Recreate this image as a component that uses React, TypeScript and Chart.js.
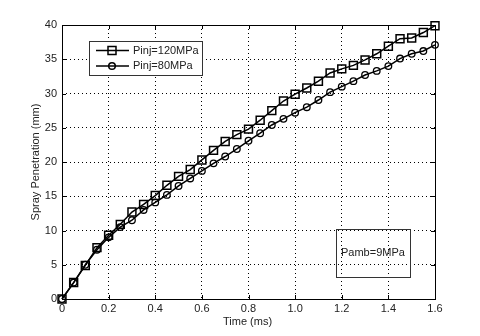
import React, { useEffect, useRef } from "react";
import { Chart, registerables } from "chart.js";

Chart.register(...registerables);

const time = [0, 0.05, 0.1, 0.15, 0.2, 0.25, 0.3, 0.35, 0.4, 0.45, 0.5, 0.55, 0.6, 0.65, 0.7, 0.75, 0.8, 0.85, 0.9, 0.95, 1.0, 1.05, 1.1, 1.15, 1.2, 1.25, 1.3, 1.35, 1.4, 1.45, 1.5, 1.55, 1.6];
const pinj120 = [0, 2.4, 4.9, 7.5, 9.3, 10.9, 12.7, 13.8, 15.1, 16.6, 17.9, 18.9, 20.3, 21.7, 23.0, 24.0, 24.8, 26.1, 27.5, 28.9, 29.9, 30.8, 31.8, 33.0, 33.6, 34.1, 34.9, 35.8, 36.9, 38.0, 38.1, 38.9, 39.9];
const pinj80 = [0, 2.4, 5.0, 7.2, 9.0, 10.5, 11.5, 13.0, 14.1, 15.2, 16.5, 17.6, 18.7, 19.8, 20.8, 21.9, 23.1, 24.2, 25.4, 26.3, 27.2, 28.0, 29.05, 30.2, 31.0, 31.8, 32.7, 33.3, 34.0, 35.1, 35.8, 36.2, 37.1];
const seriesLabels = ["Pinj=120MPa", "Pinj=80MPa"];
const xTitle = "Time (ms)";
const yTitle = "Spray Penetration (mm)";
const noteText = "Pamb=9MPa";

const FONT = '"Liberation Sans", Arial, sans-serif';
const TEXT = "#222";

const overlay = {
  id: "overlay",
  afterDraw(chart: any) {
    const ctx = chart.ctx as CanvasRenderingContext2D;
    const a = chart.chartArea;
    const xs = chart.scales.x;
    const ys = chart.scales.y;
    ctx.save();
    // box
    ctx.strokeStyle = "#000";
    ctx.lineWidth = 1;
    ctx.setLineDash([]);
    ctx.strokeRect(Math.round(a.left) + 0.5, Math.round(a.top) + 0.5, Math.round(a.right - a.left), Math.round(a.bottom - a.top));
    // inner ticks
    const tl = 4;
    ctx.beginPath();
    xs.ticks.forEach((t: any) => {
      const px = Math.round(xs.getPixelForValue(t.value)) + 0.5;
      ctx.moveTo(px, a.bottom);
      ctx.lineTo(px, a.bottom - tl);
      ctx.moveTo(px, a.top);
      ctx.lineTo(px, a.top + tl);
    });
    ys.ticks.forEach((t: any) => {
      const py = Math.round(ys.getPixelForValue(t.value)) + 0.5;
      ctx.moveTo(a.left, py);
      ctx.lineTo(a.left + tl, py);
      ctx.moveTo(a.right, py);
      ctx.lineTo(a.right - tl, py);
    });
    ctx.stroke();

    // axis titles
    ctx.fillStyle = TEXT;
    ctx.font = `11px ${FONT}`;
    ctx.textAlign = "center";
    ctx.textBaseline = "middle";
    ctx.fillText(xTitle, (a.left + a.right) / 2 - 1, 322);
    ctx.save();
    ctx.translate(35.5, (a.top + a.bottom) / 2);
    ctx.rotate(-Math.PI / 2);
    ctx.fillText(yTitle, 0, 0);
    ctx.restore();

    // legend
    const lx = 89.5, ly = 41.5, lw = 113, lh = 34;
    ctx.fillStyle = "#fff";
    ctx.fillRect(lx, ly, lw, lh);
    ctx.strokeStyle = "#333";
    ctx.strokeRect(lx, ly, lw, lh);
    const rows = [
      { y: 50.5, style: "rect", label: seriesLabels[0] },
      { y: 66, style: "circle", label: seriesLabels[1] },
    ];
    rows.forEach((r) => {
      ctx.strokeStyle = "#000";
      ctx.lineWidth = 1.5;
      ctx.beginPath();
      ctx.moveTo(96, r.y);
      ctx.lineTo(129, r.y);
      ctx.stroke();
      ctx.beginPath();
      if (r.style === "rect") {
        ctx.rect(112 - 4, r.y - 4, 8, 8);
      } else {
        ctx.arc(112, r.y, 3.3, 0, Math.PI * 2);
      }
      ctx.stroke();
      ctx.fillStyle = TEXT;
      ctx.textAlign = "left";
      ctx.textBaseline = "middle";
      ctx.fillText(r.label, 133, r.y);
    });

    // annotation
    ctx.lineWidth = 1;
    ctx.strokeStyle = "#333";
    ctx.strokeRect(336.5, 229.5, 74, 48);
    ctx.fillStyle = TEXT;
    ctx.textAlign = "left";
    ctx.fillText(noteText, 341, 253);
    ctx.restore();
  },
};

export default function App() {
  const ref = useRef<HTMLCanvasElement | null>(null);
  useEffect(() => {
    if (!ref.current) return;
    const chart = new Chart(ref.current, {
      type: "line",
      data: {
        datasets: [
          {
            label: seriesLabels[0],
            data: time.map((t, i) => ({ x: t, y: pinj120[i] })),
            borderColor: "#000",
            borderWidth: 1.5,
            pointStyle: "rect",
            pointRadius: 5.6,
            pointBorderWidth: 1.5,
            pointBorderColor: "#000",
            pointBackgroundColor: "rgba(0,0,0,0)",
            fill: false,
            tension: 0,
            clip: false as any,
          },
          {
            label: seriesLabels[1],
            data: time.map((t, i) => ({ x: t, y: pinj80[i] })),
            borderColor: "#000",
            borderWidth: 1.5,
            pointStyle: "circle",
            pointRadius: 3.3,
            pointBorderWidth: 1.3,
            pointBorderColor: "#000",
            pointBackgroundColor: "rgba(0,0,0,0)",
            fill: false,
            tension: 0,
            clip: false as any,
          },
        ],
      },
      options: {
        animation: false,
        responsive: false,
        events: [],
        layout: { padding: { left: 0, right: 45, top: 25, bottom: 0 } },
        plugins: { legend: { display: false }, tooltip: { enabled: false }, title: { display: false } },
        scales: {
          x: {
            type: "linear",
            min: 0,
            max: 1.6,
            afterFit: (s: any) => { s.height = 37; },
            ticks: { stepSize: 0.2, color: TEXT, font: { family: FONT, size: 11 }, padding: 3, maxRotation: 0 },
            grid: { color: "#000", lineWidth: 1, drawTicks: false },
            border: { display: false, dash: [1, 3] },
          },
          y: {
            type: "linear",
            min: 0,
            max: 40,
            afterFit: (s: any) => { s.width = 62; },
            ticks: { stepSize: 5, color: TEXT, font: { family: FONT, size: 11 }, padding: 5 },
            grid: { color: "#000", lineWidth: 1, drawTicks: false },
            border: { display: false, dash: [1, 3] },
          },
        },
      },
      plugins: [overlay],
    });
    return () => chart.destroy();
  }, []);
  return (
    <div style={{ position: "absolute", left: 0, top: 0, width: 480, height: 336, background: "#fff" }}>
      <canvas ref={ref} width={480} height={336} />
    </div>
  );
}
